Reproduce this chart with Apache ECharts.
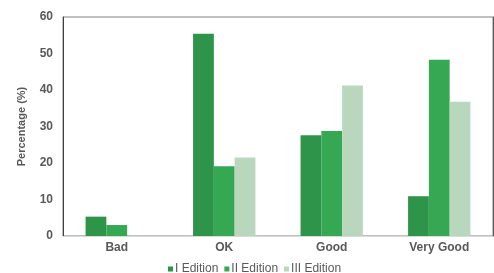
<!DOCTYPE html>
<html>
<head>
<meta charset="utf-8">
<script src="https://cdn.jsdelivr.net/npm/echarts@6/dist/echarts.min.js"></script>
<style>
  body { margin: 0; padding: 0; background: #fff; }
  #chart { width: 494px; height: 273px; }
</style>
</head>
<body>
<div id="chart"></div>
<script>
  // data
  const categories = ["Bad", "OK", "Good", "Very Good"];
  const editionI = [5.3, 55.4, 27.6, 10.9];
  const editionII = [3.0, 19.1, 28.8, 48.3];
  const editionIII = [null, 21.5, 41.2, 36.8];
  const yTicks = [0, 10, 20, 30, 40, 50, 60];

  const font = "Liberation Sans, Arial, sans-serif";
  const chart = echarts.init(document.getElementById("chart"));

  function bar(name, data, color) {
    return {
      name: name,
      type: "bar",
      data: data,
      barGap: "0%",
      barCategoryGap: "42%",
      itemStyle: { color: color },
    };
  }

  chart.setOption({
    animation: false,
    textStyle: { fontFamily: font },
    grid: {
      left: 63, right: 1, top: 17, bottom: 37,
      show: true, borderColor: "#808080", borderWidth: 1,
    },
    legend: {
      bottom: -7,
      left: 163,
      itemWidth: 5,
      itemHeight: 5,
      itemGap: 6,
      icon: "rect",
      textStyle: { fontSize: 12, color: "#595959", fontFamily: font, padding: [0, 0, 0, -3] },
    },
    xAxis: {
      type: "category",
      data: categories,
      axisLine: { lineStyle: { color: "#d9d9d9" } },
      axisTick: { show: false },
      axisLabel: { margin: 6, fontSize: 12, fontWeight: "bold", color: "#595959" },
    },
    yAxis: [
      {
        type: "value",
        min: yTicks[0],
        max: yTicks[yTicks.length - 1],
        interval: 10,
        name: "Percentage (%)",
        nameLocation: "middle",
        nameGap: 36,
        nameTextStyle: { fontSize: 11, fontWeight: "bold", color: "#595959" },
        axisLine: { show: true, lineStyle: { color: "#404040" } },
        axisTick: { show: false },
        splitLine: { show: false },
        axisLabel: { margin: 10, fontSize: 12, fontWeight: "bold", color: "#595959" },
      },
      {
        type: "value",
        position: "right",
        min: 0, max: 60,
        axisLine: { show: true, lineStyle: { color: "#595959" } },
        axisTick: { show: false },
        axisLabel: { show: false },
        splitLine: { show: false },
      },
    ],
    series: [
      bar("I Edition", editionI, "#2e9449"),
      bar("II Edition", editionII, "#36a853"),
      bar("III Edition", editionIII, "#b8d7bd"),
    ],
  });
</script>
</body>
</html>
